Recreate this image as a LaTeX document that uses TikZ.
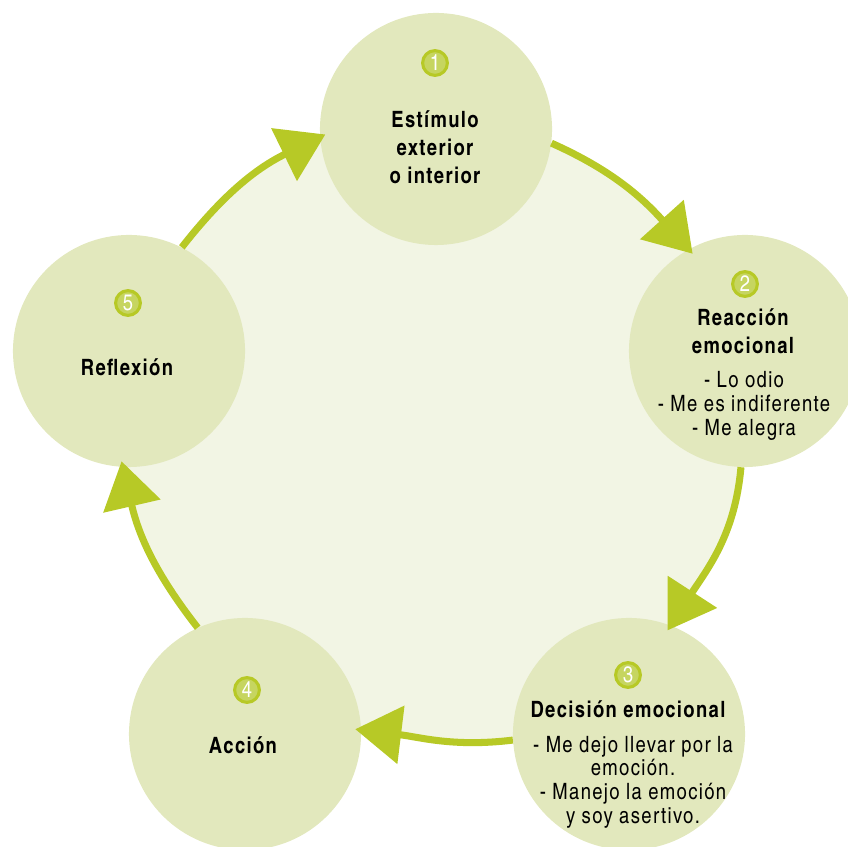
\documentclass[tikz,border=0pt]{standalone}
\usepackage{fontspec}
\setmainfont{texgyreheroscn}[Extension=.otf,UprightFont=*-regular,BoldFont=*-bold,LetterSpace=6]
\usepackage{tikz}
\usetikzlibrary{arrows.meta,backgrounds}
\definecolor{ringgreen}{RGB}{183,201,38}
\definecolor{stagefill}{RGB}{226,232,189}
\definecolor{innerfill}{RGB}{242,245,228}
\definecolor{badgefill}{RGB}{198,213,96}

\begin{document}
\begin{tikzpicture}[x=0.025cm,y=0.025cm,
    stage/.style={circle,fill=stagefill,minimum size=5.8cm,inner sep=0pt},
    badge/.style={circle,fill=badgefill,draw=ringgreen,line width=2.2pt,minimum size=0.62cm,
      inner sep=0pt,text=white,font=\fontsize{16}{16}\selectfont},
    head/.style={font=\bfseries\fontsize{16}{20}\selectfont,align=center,inner sep=0pt},
    items/.style={font=\fontsize{16}{16.8}\selectfont,align=center,inner sep=0pt},
    flow/.style={-{Triangle[length=1.15cm,width=1.43cm]},shorten >=-0.15cm}]
  \useasboundingbox (0,0) rectangle (848,847);
  \clip (0,0) rectangle (848,847);
  \node[stage] (s1) at (436,718) {};
  \node[stage] (s2) at (745,496) {};
  \node[stage] (s3) at (629,113) {};
  \node[stage] (s4) at (245,113) {};
  \node[stage] (s5) at (129,496) {};
  \begin{pgfonlayer}{background}
    \fill[innerfill] (s1.-7) to[out=-24,in=132] (s2.119) -- (s2.-92) to[out=-95,in=57] (s3.69)
      -- (s3.183) to[out=187,in=-7] (s4.2) -- (s4.114) to[out=128,in=-77] (s5.-93)
      -- (s5.63) to[out=52,in=206] (s1.184) -- cycle;
  \end{pgfonlayer}
  % numbers
  \node[badge] (n1) at (435,784) {1};
  \node[badge] (n2) at (745,563) {2};
  \node[badge] (n3) at (628,172) {3};
  \node[badge] (n4) at (247,157) {4};
  \node[badge] (n5) at (128,544) {5};
  % texts
  \node[head] (h1) at (435,700) {Estímulo\\exterior\\o interior};
  \node[head] (h2) at (743,516) {Reacción\\emocional};
  \node[items] (i2) at (744,441) {- Lo odio\\- Me es indiferente\\- Me alegra};
  \node[head] (h3) at (628,138) {Decisión emocional};
  \node[items] (i3) at (633,65) {- Me dejo llevar por la\\emoción.\\- Manejo la emoción\\y soy asertivo.};
  \node[head] (h4) at (243,102) {Acción};
  \node[head] (h5) at (127,480) {Reflexión};
  % cycle
  \path[color=ringgreen,line width=5pt]
    (s1.-7) edge[flow,out=-24,in=132] (s2.119)
    (s2.-92) edge[flow,out=-95,in=57] (s3.69)
    (s3.183) edge[flow,out=187,in=-7] (s4.2)
    (s4.114) edge[flow,out=128,in=-77] (s5.-93)
    (s5.63) edge[flow,out=52,in=206] (s1.184);
\end{tikzpicture}
\end{document}
